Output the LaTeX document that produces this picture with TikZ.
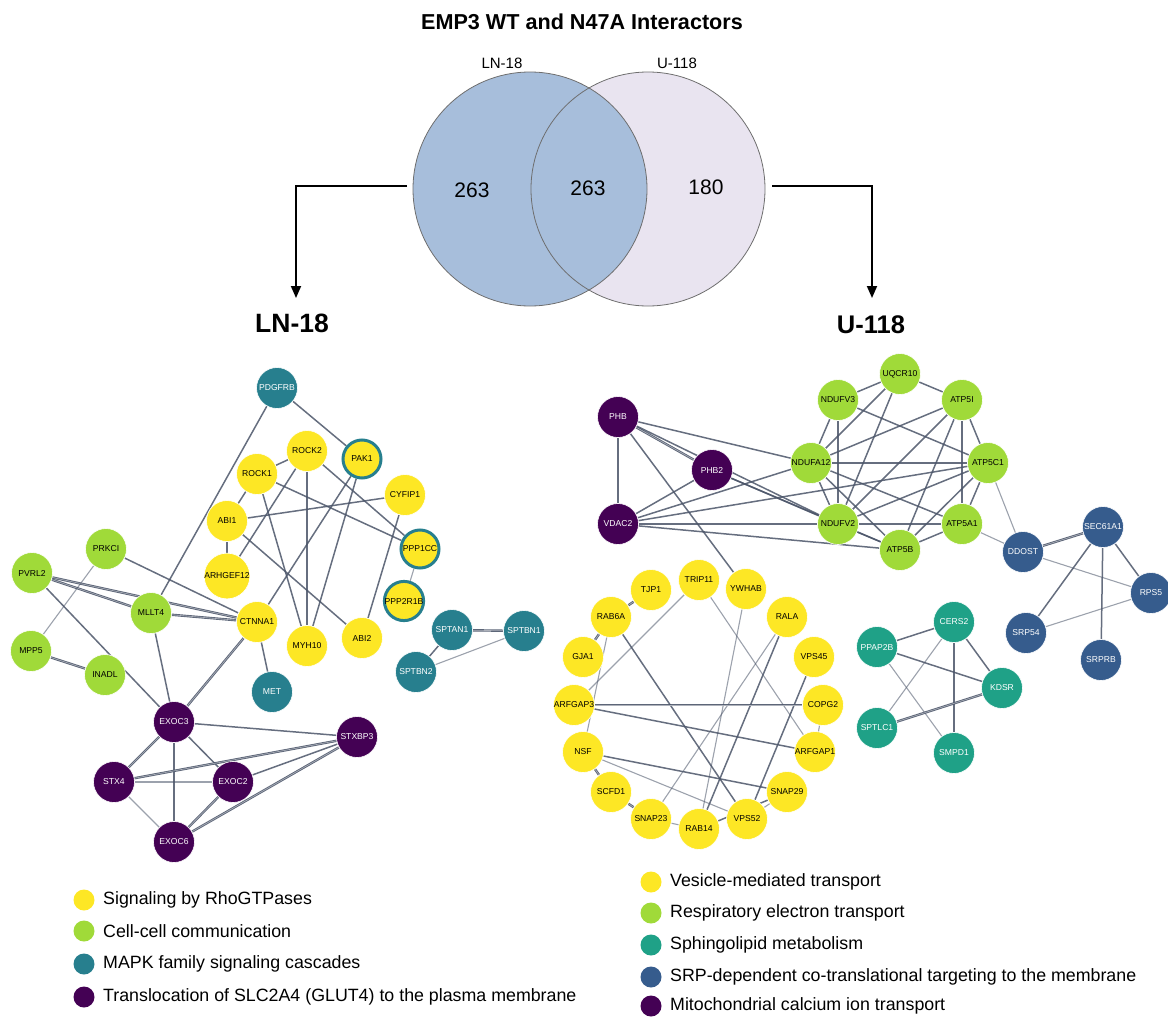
\documentclass[tikz,border=0pt]{standalone}
\usepackage{fontspec}
\setmainfont{Liberation Sans}
\usetikzlibrary{arrows.meta}
\definecolor{yellowc}{HTML}{FDE725}
\definecolor{greenc}{HTML}{A0DA39}
\definecolor{tealc}{HTML}{277F8E}
\definecolor{sphc}{HTML}{1FA187}
\definecolor{srpc}{HTML}{365C8D}
\definecolor{purc}{HTML}{440154}
\definecolor{edgec}{HTML}{4B5569}
\definecolor{vennL}{HTML}{A7BEDB}
\definecolor{vennR}{HTML}{E9E4F0}
\definecolor{vennline}{HTML}{6E6E6E}
\pgfdeclarelayer{bg}
\pgfsetlayers{bg,main}
\newcommand{\nf}{\fontsize{8.6}{9.5}\selectfont}
\begin{document}
\begin{tikzpicture}[x=1pt,y=-1pt,
  gn/.style={circle, minimum size=41pt, inner sep=0pt, draw=white, line width=0.6pt, font=\nf},
  ye/.style={gn, fill=yellowc, text=black},
  gr/.style={gn, fill=greenc, text=black},
  te/.style={gn, fill=tealc, text=white},
  pu/.style={gn, fill=purc, text=white},
  sp/.style={gn, fill=sphc, text=white},
  sr/.style={gn, fill=srpc, text=white},
  ring/.style={ye, draw=tealc, line width=3pt, minimum size=38pt},
  ed/.style={draw=edgec, line width=1.5pt, opacity=0.85},
  el/.style={draw=edgec, line width=1.1pt, opacity=0.55},
  edd/.style={draw=edgec, double=edgec!40, double distance=0.6pt, line width=0.9pt, opacity=0.9},
  arr/.style={draw=black, line width=1.8pt, -{Triangle[length=12pt,width=10pt]}},
  leg/.style={circle, minimum size=21pt, inner sep=0pt},
  legt/.style={anchor=west, font=\fontsize{17.8}{20}\selectfont, inner sep=0pt}
]
\useasboundingbox (0,0) rectangle (1168,1017);

% Title
\node[font=\bfseries\fontsize{21.6}{24}\selectfont] (title) at (582,22) {EMP3 WT and N47A Interactors};

% Venn
\node[circle, minimum size=234pt, inner sep=0pt, fill=vennR] (vR) at (648,189) {};
\node[circle, minimum size=234pt, inner sep=0pt, fill=vennL] (vL) at (530,189) {};
\draw[vennline, line width=0.8pt] (vL.center) circle (117);
\draw[vennline, line width=0.8pt] (vR.center) circle (117);
\node[font=\fontsize{15}{17}\selectfont] (lnlab) at (502,63) {LN-18};
\node[font=\fontsize{15}{17}\selectfont] (ulab) at (677,63) {U-118};
\node[font=\fontsize{21}{24}\selectfont] (n1) at (472,190) {263};
\node[font=\fontsize{21}{24}\selectfont] (n2) at (588,188) {263};
\node[font=\fontsize{21}{24}\selectfont] (n3) at (706,187) {180};

% Headings and arrows
\node[font=\bfseries\fontsize{26.5}{29}\selectfont] (lnh) at (292,323) {LN-18};
\node[font=\bfseries\fontsize{25.5}{28}\selectfont] (uh) at (871,325) {U-118};
\coordinate (la) at (407,186);
\coordinate (lt) at (296,298);
\coordinate (ra) at (772,186);
\coordinate (rt) at (872,298);
\draw[arr] (la) -| (lt);
\draw[arr] (ra) -| (rt);

% ---------- LN-18 network ----------
\node[te] (PDGFRB) at (277,388) {PDGFRB};
\node[ye] (ROCK1) at (257,474) {ROCK1};
\node[ye] (ROCK2) at (307,451) {ROCK2};
\node[ring] (PAK1) at (362,459) {PAK1};
\node[ye] (CYFIP1) at (405,495) {CYFIP1};
\node[ye] (ABI1) at (227,521) {ABI1};
\node[ye] (ARHGEF12) at (227,576) {ARHGEF12};
\node[ring] (PPP1CC) at (420,549) {PPP1CC};
\node[ring] (PPP2R1B) at (404,601) {PPP2R1B};
\node[ye] (CTNNA1) at (257,622) {CTNNA1};
\node[ye] (MYH10) at (307,646) {MYH10};
\node[ye] (ABI2) at (362,638) {ABI2};
\node[te] (SPTAN1) at (452,630) {SPTAN1};
\node[te] (SPTBN1) at (524,631) {SPTBN1};
\node[te] (SPTBN2) at (416,672) {SPTBN2};
\node[te] (MET) at (272,692) {MET};
\node[gr] (PRKCI) at (106,549) {PRKCI};
\node[gr] (PVRL2) at (32,573) {PVRL2};
\node[gr] (MLLT4) at (151,613) {MLLT4};
\node[gr] (MPP5) at (31,651) {MPP5};
\node[gr] (INADL) at (105,675) {INADL};
\node[pu] (EXOC3) at (174,722) {EXOC3};
\node[pu] (STXBP3) at (357,737) {STXBP3};
\node[pu] (STX4) at (114,782) {STX4};
\node[pu] (EXOC2) at (233,782) {EXOC2};
\node[pu] (EXOC6) at (174,842) {EXOC6};

% ---------- U-118 network ----------
\node[pu] (PHB) at (618,417) {PHB};
\node[pu] (PHB2) at (712,470) {PHB2};
\node[pu] (VDAC2) at (618,524) {VDAC2};
\node[gr] (UQCR10) at (900,374) {UQCR10};
\node[gr] (NDUFV3) at (838,400) {NDUFV3};
\node[gr] (ATP5I) at (962,400) {ATP5I};
\node[gr] (NDUFA12) at (811,463) {NDUFA12};
\node[gr] (ATP5C1) at (988,463) {ATP5C1};
\node[gr] (NDUFV2) at (838,524) {NDUFV2};
\node[gr] (ATP5A1) at (962,524) {ATP5A1};
\node[gr] (ATP5B) at (900,550) {ATP5B};
\node[sr] (DDOST) at (1023,552) {DDOST};
\node[sr] (SEC61A1) at (1103,527) {SEC61A1};
\node[sr] (RPS5) at (1151,593) {RPS5};
\node[sr] (SRP54) at (1026,633) {SRP54};
\node[sr] (SRPRB) at (1101,660) {SRPRB};
\node[sp] (CERS2) at (954,622) {CERS2};
\node[sp] (PPAP2B) at (877,647) {PPAP2B};
\node[sp] (KDSR) at (1002,688) {KDSR};
\node[sp] (SPTLC1) at (877,728) {SPTLC1};
\node[sp] (SMPD1) at (954,753) {SMPD1};
\node[ye] (TRIP11) at (699,580) {TRIP11};
\node[ye] (YWHAB) at (746,589) {YWHAB};
\node[ye] (TJP1) at (651,590) {TJP1};
\node[ye] (RAB6A) at (611,617) {RAB6A};
\node[ye] (RALA) at (787,617) {RALA};
\node[ye] (GJA1) at (583,657) {GJA1};
\node[ye] (VPS45) at (814,657) {VPS45};
\node[ye] (ARFGAP3) at (574,705) {ARFGAP3};
\node[ye] (COPG2) at (823,705) {COPG2};
\node[ye] (NSF) at (583,752) {NSF};
\node[ye] (ARFGAP1) at (815,752) {ARFGAP1};
\node[ye] (SCFD1) at (611,792) {SCFD1};
\node[ye] (SNAP29) at (787,792) {SNAP29};
\node[ye] (SNAP23) at (651,819) {SNAP23};
\node[ye] (VPS52) at (747,819) {VPS52};
\node[ye] (RAB14) at (699,829) {RAB14};

\begin{pgfonlayer}{bg}
% LN-18 edges
\draw[ed] (PDGFRB) -- (PAK1);
\draw[ed] (PDGFRB) -- (MLLT4);
\draw[ed] (ROCK1) -- (ROCK2);
\draw[ed] (ROCK1) -- (ABI1);
\draw[ed] (ROCK1) -- (MYH10);
\draw[ed] (ROCK1) -- (PPP1CC);
\draw[ed] (ROCK2) -- (ARHGEF12);
\draw[ed] (ROCK2) -- (MYH10);
\draw[ed] (ROCK2) -- (PPP1CC);
\draw[ed] (PAK1) -- (CTNNA1);
\draw[ed] (PAK1) -- (MYH10);
\draw[ed] (ABI1) -- (ARHGEF12);
\draw[ed] (ABI1) -- (CYFIP1);
\draw[ed] (ABI1) -- (ABI2);
\draw[ed] (CYFIP1) -- (ABI2);
\draw[el] (PPP1CC) -- (PPP2R1B);
\draw[ed] (CTNNA1) -- (MET);
\draw[ed] (CTNNA1) -- (PRKCI);
\draw[edd] (CTNNA1) -- (PVRL2);
\draw[edd] (CTNNA1) -- (MLLT4);
\draw[edd] (PVRL2) -- (MLLT4);
\draw[ed] (PVRL2) -- (EXOC3);
\draw[el] (PRKCI) -- (MPP5);
\draw[edd] (MPP5) -- (INADL);
\draw[ed] (MLLT4) -- (EXOC3);
\draw[edd] (CTNNA1) -- (EXOC3);
\draw[ed] (EXOC3) -- (STXBP3);
\draw[edd] (EXOC3) -- (STX4);
\draw[ed] (EXOC3) -- (EXOC2);
\draw[ed] (EXOC3) -- (EXOC6);
\draw[edd] (STX4) -- (STXBP3);
\draw[el] (STX4) -- (EXOC2);
\draw[el] (STX4) -- (EXOC6);
\draw[ed] (EXOC2) -- (STXBP3);
\draw[edd] (EXOC2) -- (EXOC6);
\draw[edd] (EXOC6) -- (STXBP3);
\draw[edd] (SPTAN1) -- (SPTBN1);
\draw[ed] (SPTAN1) -- (SPTBN2);
\draw[el] (SPTBN1) -- (SPTBN2);
% U-118 mitochondrial
\draw[ed] (PHB) -- (VDAC2);
\draw[edd] (PHB) -- (PHB2);
\draw[ed] (PHB) -- (NDUFA12);
\draw[ed] (PHB) -- (NDUFV2);
\draw[ed] (PHB) -- (YWHAB);
\draw[ed] (PHB2) -- (VDAC2);
\draw[ed] (PHB2) -- (NDUFV2);
\draw[ed] (PHB2) -- (ATP5B);
\draw[ed] (VDAC2) -- (NDUFA12);
\draw[ed] (VDAC2) -- (ATP5C1);
\draw[ed] (VDAC2) -- (NDUFV2);
\draw[ed] (VDAC2) -- (ATP5B);
% respiratory
\draw[ed] (UQCR10) -- (NDUFV3);
\draw[ed] (UQCR10) -- (ATP5I);
\draw[ed] (UQCR10) -- (NDUFA12);
\draw[ed] (UQCR10) -- (NDUFV2);
\draw[ed] (NDUFV3) -- (NDUFA12);
\draw[ed] (NDUFV3) -- (NDUFV2);
\draw[ed] (NDUFV3) -- (ATP5C1);
\draw[ed] (ATP5I) -- (NDUFA12);
\draw[ed] (ATP5I) -- (NDUFV2);
\draw[ed] (ATP5I) -- (ATP5B);
\draw[ed] (ATP5I) -- (ATP5A1);
\draw[ed] (ATP5I) -- (ATP5C1);
\draw[ed] (NDUFA12) -- (ATP5C1);
\draw[ed] (NDUFA12) -- (NDUFV2);
\draw[ed] (NDUFA12) -- (ATP5B);
\draw[ed] (NDUFA12) -- (ATP5A1);
\draw[ed] (ATP5C1) -- (NDUFV2);
\draw[ed] (ATP5C1) -- (ATP5B);
\draw[ed] (ATP5C1) -- (ATP5A1);
\draw[el] (ATP5C1) -- (DDOST);
\draw[ed] (NDUFV2) -- (ATP5A1);
\draw[ed] (NDUFV2) -- (ATP5B);
\draw[ed] (ATP5B) -- (ATP5A1);
\draw[el] (ATP5A1) -- (DDOST);
% SRP
\draw[edd] (DDOST) -- (SEC61A1);
\draw[el] (DDOST) -- (RPS5);
\draw[ed] (SEC61A1) -- (RPS5);
\draw[ed] (SEC61A1) -- (SRP54);
\draw[ed] (SEC61A1) -- (SRPRB);
\draw[el] (SRP54) -- (RPS5);
% sphingolipid
\draw[ed] (CERS2) -- (PPAP2B);
\draw[ed] (CERS2) -- (KDSR);
\draw[el] (CERS2) -- (SPTLC1);
\draw[ed] (CERS2) -- (SMPD1);
\draw[ed] (PPAP2B) -- (KDSR);
\draw[el] (PPAP2B) -- (SMPD1);
\draw[edd] (SPTLC1) -- (KDSR);
% vesicle
\draw[edd] (TJP1) -- (RAB6A);
\draw[edd] (RAB6A) -- (GJA1);
\draw[el] (RAB6A) -- (NSF);
\draw[ed] (RAB6A) -- (VPS52);
\draw[el] (TRIP11) -- (ARFGAP3);
\draw[el] (TRIP11) -- (ARFGAP1);
\draw[el] (YWHAB) -- (RAB14);
\draw[el] (RALA) -- (SNAP23);
\draw[ed] (RALA) -- (RAB14);
\draw[ed] (VPS45) -- (VPS52);
\draw[edd] (ARFGAP3) -- (COPG2);
\draw[ed] (ARFGAP3) -- (ARFGAP1);
\draw[el] (COPG2) -- (ARFGAP1);
\draw[ed] (NSF) -- (SNAP29);
\draw[el] (NSF) -- (VPS52);
\draw[edd] (NSF) -- (SCFD1);
\draw[edd] (SCFD1) -- (SNAP23);
\draw[el] (SNAP23) -- (RAB14);
\draw[ed] (RAB14) -- (SNAP29);
\draw[el] (VPS52) -- (SNAP29);
\end{pgfonlayer}

% Legends
\node[leg, fill=yellowc] (l1) at (84,900) {};
\node[legt] (t1) at (103,900) {Signaling by RhoGTPases};
\node[leg, fill=greenc] (l2) at (84,931) {};
\node[legt] (t2) at (103,931) {Cell-cell communication};
\node[leg, fill=tealc] (l3) at (84,964) {};
\node[legt] (t3) at (103,964) {MAPK family signaling cascades};
\node[leg, fill=purc] (l4) at (84,997) {};
\node[legt] (t4) at (103,997) {Translocation of SLC2A4 (GLUT4) to the plasma membrane};

\node[leg, fill=yellowc] (r1) at (651,882) {};
\node[legt] (s1) at (670,882) {Vesicle-mediated transport};
\node[leg, fill=greenc] (r2) at (651,913) {};
\node[legt] (s2) at (670,913) {Respiratory electron transport};
\node[leg, fill=sphc] (r3) at (651,945) {};
\node[legt] (s3) at (670,945) {Sphingolipid metabolism};
\node[leg, fill=srpc] (r4) at (651,977) {};
\node[legt] (s4) at (670,977) {SRP-dependent co-translational targeting to the membrane};
\node[leg, fill=purc] (r5) at (651,1006) {};
\node[legt] (s5) at (670,1006) {Mitochondrial calcium ion transport};
\end{tikzpicture}
\end{document}
